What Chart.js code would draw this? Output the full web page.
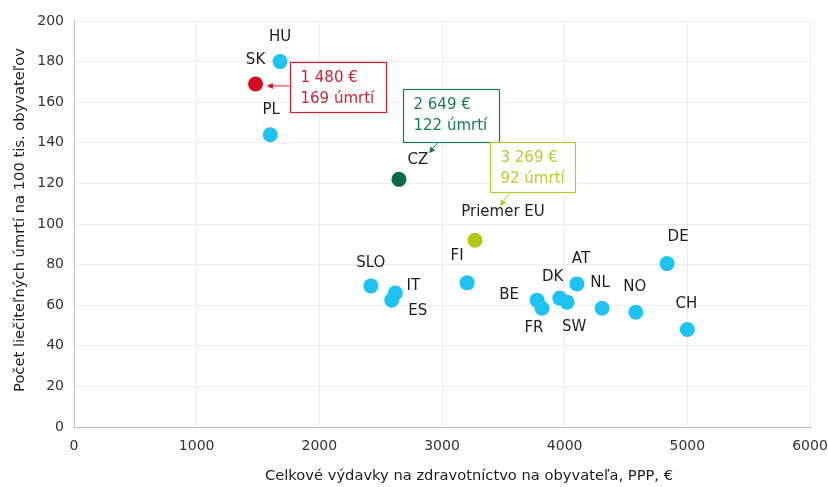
<!DOCTYPE html>
<html lang="sk">
<head>
<meta charset="utf-8">
<title>Výdavky na zdravotníctvo a liečiteľné úmrtia</title>
<script src="https://cdn.jsdelivr.net/npm/chart.js@4/dist/chart.umd.min.js"></script>
<style>
  html, body { margin: 0; padding: 0; background: #ffffff; }
  #wrap { width: 828px; height: 487px; position: relative; }
</style>
</head>
<body>
<div id="wrap"><canvas id="c" width="828" height="487"></canvas></div>
<script>
// Krajiny, výdavky na zdravotníctvo na obyvateľa (PPP, €) a liečiteľné úmrtia na 100 tis. obyvateľov
const countries = ['HU', 'SK', 'PL', 'CZ', 'Priemer EU', 'SLO', 'IT', 'ES', 'FI', 'BE', 'FR', 'DK', 'SW', 'AT', 'NL', 'NO', 'DE', 'CH'];
const spending  = [1680, 1480, 1600, 2649, 3269, 2420, 2620, 2590, 3205, 3775, 3815, 3960, 4020, 4100, 4305, 4580, 4835, 5000];
const deaths    = [180, 169, 144, 122, 92, 69.5, 66, 62.5, 71, 62.5, 58.5, 63.5, 61.5, 70.5, 58.5, 56.5, 80.5, 48];

// Osi
const xTicks = [0, 1000, 2000, 3000, 4000, 5000, 6000];
const yTicks = [0, 20, 40, 60, 80, 100, 120, 140, 160, 180, 200];
const xTitle = 'Celkové výdavky na zdravotníctvo na obyvateľa, PPP, €';
const yTitle = 'Počet liečiteľných úmrtí na 100 tis. obyvateľov';

// Zvýraznené body s popisom (farby)
const highlight = { 'SK': '#d40a1f', 'CZ': '#0b6a48', 'Priemer EU': '#b5c612' };
const calloutText = { 'SK': '#d21f2f', 'CZ': '#1a7a5c', 'Priemer EU': '#b9cb2a' };
const baseColor = '#1cc3f3';

// Umiestnenie názvov krajín voči bodu (px)
const labelOffset = {
  'HU': [0, -24], 'SK': [0, -24], 'PL': [1, -25], 'CZ': [19, -19], 'Priemer EU': [28, -28],
  'SLO': [0, -23], 'IT': [18, -7], 'ES': [26, 11], 'FI': [-10, -27], 'BE': [-28, -5],
  'FR': [-8, 20], 'DK': [-7, -21], 'SW': [7, 25], 'AT': [4, -25], 'NL': [-2, -25],
  'NO': [-1, -25], 'DE': [11, -26], 'CH': [-1, -25]
};

// Rámčeky s hodnotami: poloha rámčeka a šípky voči bodu (px)
const calloutBox = {
  'SK':         { dx: 34, dy: -22, w: 96, h: 50, from: [34, 2],   to: [11, 2] },
  'CZ':         { dx: 4,  dy: -90, w: 96, h: 53, from: [39, -37], to: [30, -26] },
  'Priemer EU': { dx: 15, dy: -98, w: 85, h: 50, from: [35, -48], to: [25, -34] }
};

const fmtNum = n => String(n).replace(/\B(?=(\d{3})+(?!\d))/g, ' ');
const FONT = '"DejaVu Sans", Verdana, sans-serif';
const TEXT = '#1e1e1e';

const pointColors = countries.map(c => highlight[c] || baseColor);

const labelsPlugin = {
  id: 'pointLabels',
  afterDatasetsDraw(chart) {
    const ctx = chart.ctx;
    const meta = chart.getDatasetMeta(0);
    ctx.save();
    ctx.font = '15px ' + FONT;
    ctx.fillStyle = TEXT;
    ctx.textAlign = 'center';
    ctx.textBaseline = 'middle';
    meta.data.forEach((pt, i) => {
      const off = labelOffset[countries[i]] || [0, -24];
      ctx.fillText(countries[i], pt.x + off[0], pt.y + off[1]);
    });

    // Rámčeky s výdavkami a počtom úmrtí
    meta.data.forEach((pt, i) => {
      const name = countries[i];
      const box = calloutBox[name];
      if (!box) return;
      const col = calloutText[name];
      const bx = Math.round(pt.x + box.dx) + 0.5;
      const by = Math.round(pt.y + box.dy) + 0.5;
      ctx.fillStyle = '#ffffff';
      ctx.fillRect(bx, by, box.w, box.h);
      ctx.strokeStyle = col;
      ctx.lineWidth = 1.2;
      ctx.strokeRect(bx, by, box.w, box.h);
      ctx.fillStyle = col;
      ctx.font = '15px ' + FONT;
      ctx.textAlign = 'left';
      ctx.textBaseline = 'middle';
      ctx.fillText(fmtNum(spending[i]) + ' €', bx + 10, by + 16);
      ctx.fillText(fmtNum(Math.round(deaths[i])) + ' úmrtí', bx + 10, by + 37);

      // šípka
      const x1 = pt.x + box.from[0], y1 = pt.y + box.from[1];
      const x2 = pt.x + box.to[0],   y2 = pt.y + box.to[1];
      const ang = Math.atan2(y2 - y1, x2 - x1);
      const ah = 7;
      ctx.strokeStyle = col;
      ctx.lineWidth = 1;
      ctx.beginPath();
      ctx.moveTo(x1, y1);
      ctx.lineTo(x2 - Math.cos(ang) * ah * 0.6, y2 - Math.sin(ang) * ah * 0.6);
      ctx.stroke();
      ctx.beginPath();
      ctx.moveTo(x2, y2);
      ctx.lineTo(x2 - ah * Math.cos(ang - 0.45), y2 - ah * Math.sin(ang - 0.45));
      ctx.lineTo(x2 - ah * Math.cos(ang + 0.45), y2 - ah * Math.sin(ang + 0.45));
      ctx.closePath();
      ctx.fill();
    });
    ctx.restore();
  }
};

// Názvy osí
const axisTitlePlugin = {
  id: 'axisTitles',
  afterDraw(chart) {
    const ctx = chart.ctx;
    const area = chart.chartArea;
    ctx.save();
    ctx.font = '14.7px ' + FONT;
    ctx.fillStyle = TEXT;
    ctx.textAlign = 'center';
    ctx.textBaseline = 'middle';
    ctx.fillText(xTitle, 469, 476);
    ctx.translate(20, (area.top + area.bottom) / 2 - 4);
    ctx.rotate(-Math.PI / 2);
    ctx.fillText(yTitle, 0, 0);
    ctx.restore();
  }
};

new Chart(document.getElementById('c'), {
  type: 'scatter',
  data: {
    datasets: [{
      label: 'Krajiny',
      data: countries.map((c, i) => ({ x: spending[i], y: deaths[i] })),
      pointRadius: 7.5,
      pointHoverRadius: 7.5,
      pointBackgroundColor: pointColors,
      pointBorderColor: pointColors,
      pointBorderWidth: 0
    }]
  },
  options: {
    responsive: false,
    animation: false,
    events: [],
    layout: { padding: { top: 21, right: 18, left: 0, bottom: 0 } },
    plugins: { legend: { display: false }, tooltip: { enabled: false } },
    scales: {
      x: {
        type: 'linear',
        min: xTicks[0], max: xTicks[xTicks.length - 1],
        afterBuildTicks: s => { s.ticks = xTicks.map(v => ({ value: v })); },
        afterFit: s => { s.height = 60; s.paddingRight = 0; },
        grid: { color: '#ececec', drawTicks: false, lineWidth: 1 },
        border: { color: '#bfbfbf', width: 1 },
        ticks: { padding: 11, color: '#333333', font: { family: FONT, size: 14 }, callback: v => String(v) }
      },
      y: {
        type: 'linear',
        min: yTicks[0], max: yTicks[yTicks.length - 1],
        afterBuildTicks: s => { s.ticks = yTicks.map(v => ({ value: v })); },
        afterFit: s => { s.width = 74; },
        grid: { color: '#ececec', drawTicks: false, lineWidth: 1 },
        border: { color: '#bfbfbf', width: 1 },
        ticks: { padding: 10, color: '#333333', font: { family: FONT, size: 14 }, callback: v => String(v) }
      }
    }
  },
  plugins: [labelsPlugin, axisTitlePlugin]
});
</script>
</body>
</html>
